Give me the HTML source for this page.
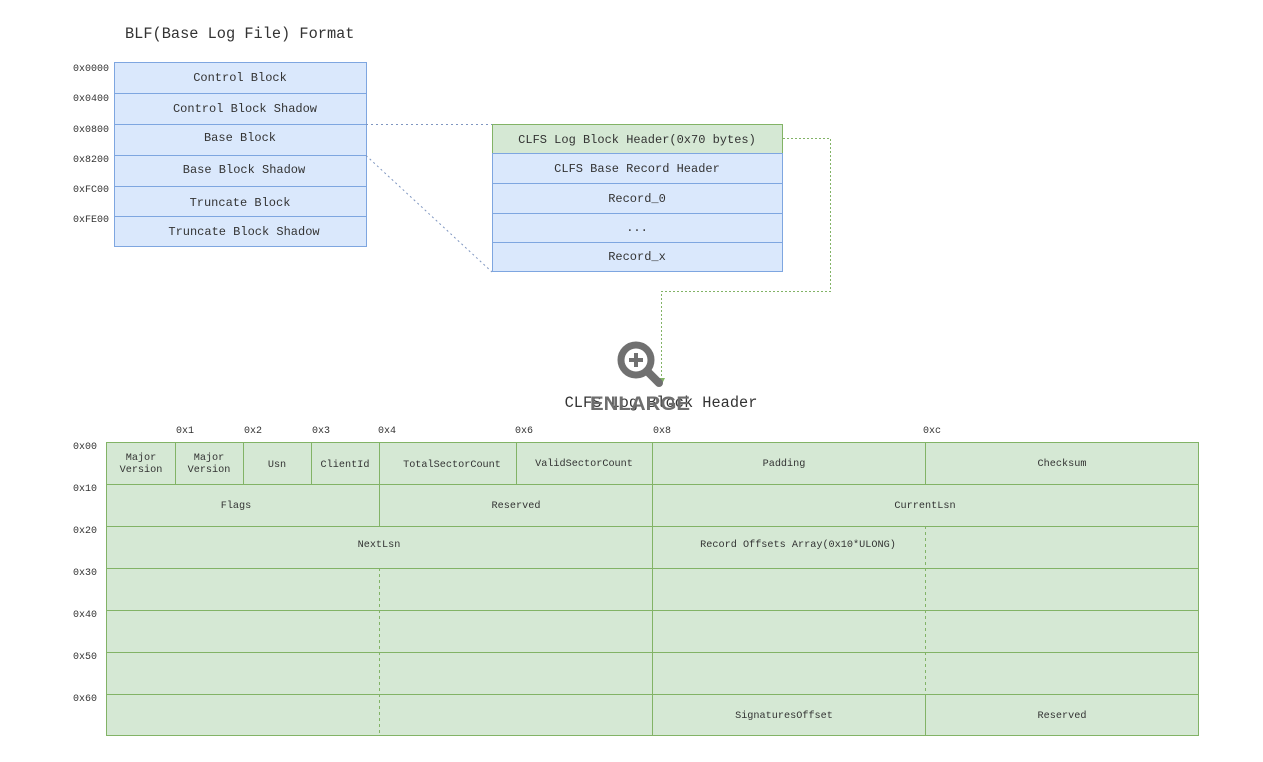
<!DOCTYPE html>
<html><head><meta charset="utf-8"><style>
html,body{margin:0;padding:0;background:#fff;width:1263px;height:762px;overflow:hidden}
svg text{font-family:"Liberation Mono",monospace;fill:#333}
</style></head><body>
<svg width="1263" height="762" viewBox="0 0 1263 762" xmlns="http://www.w3.org/2000/svg">
<text x="125" y="38" font-size="15.3" fill="#222">BLF(Base Log File) Format</text>
<!-- left blocks -->
<g font-size="12">
<rect x="114.5" y="62.5" width="252" height="184" fill="#dae8fc" stroke="#7ea6e0"/>
<g stroke="#7ea6e0"><line x1="114" y1="93.5" x2="366" y2="93.5"/><line x1="114" y1="124.5" x2="366" y2="124.5"/><line x1="114" y1="155.5" x2="366" y2="155.5"/><line x1="114" y1="186.5" x2="366" y2="186.5"/><line x1="114" y1="216.5" x2="366" y2="216.5"/></g>
<g text-anchor="middle">
<text x="240" y="81">Control Block</text>
<text x="245" y="112">Control Block Shadow</text>
<text x="240" y="141">Base Block</text>
<text x="244" y="173">Base Block Shadow</text>
<text x="240" y="206">Truncate Block</text>
<text x="244" y="235">Truncate Block Shadow</text>
</g>
<g font-size="10" fill="#555">
<text x="73" y="71">0x0000</text><text x="73" y="101">0x0400</text><text x="73" y="132">0x0800</text>
<text x="73" y="162">0x8200</text><text x="73" y="192">0xFC00</text><text x="73" y="222">0xFE00</text>
</g>
</g>
<!-- blue dotted connectors -->
<g stroke="#7f96c0" stroke-dasharray="2,3" fill="none">
<line x1="366" y1="124.5" x2="492" y2="124.5"/>
<line x1="366" y1="155.5" x2="492" y2="272"/>
</g>
<!-- middle blocks -->
<g font-size="12" text-anchor="middle">
<rect x="492.5" y="124.5" width="290" height="29" fill="#d5e8d4" stroke="#82b366"/>
<rect x="492.5" y="153.5" width="290" height="118" fill="#dae8fc" stroke="#7ea6e0"/>
<g stroke="#7ea6e0"><line x1="492" y1="183.5" x2="782" y2="183.5"/><line x1="492" y1="213.5" x2="782" y2="213.5"/><line x1="492" y1="242.5" x2="782" y2="242.5"/></g>
<text x="637" y="143">CLFS Log Block Header(0x70 bytes)</text>
<text x="637" y="172">CLFS Base Record Header</text>
<text x="637" y="202">Record_0</text>
<text x="637" y="231">...</text>
<text x="637" y="260">Record_x</text>
</g>
<!-- green dotted connector -->
<g stroke="#82b366" stroke-dasharray="2,2" fill="none">
<polyline points="783,138.5 830.5,138.5 830.5,291.5 661.5,291.5 661.5,380"/>
</g>
<path d="M658,378 L665,378 L661.5,385 Z" fill="#82b366"/>
<!-- title -->
<text x="661" y="407" font-size="15.3" text-anchor="middle" fill="#222">CLFS Log Block Header</text>
<!-- enlarge icon -->
<circle cx="636" cy="360" r="15" fill="#fff" stroke="#707070" stroke-width="7"/>
<line x1="647" y1="371" x2="659" y2="383" stroke="#707070" stroke-width="8" stroke-linecap="round"/>
<line x1="629" y1="360" x2="643" y2="360" stroke="#707070" stroke-width="4"/>
<line x1="636" y1="353" x2="636" y2="367" stroke="#707070" stroke-width="4"/>
<text x="590" y="410" font-weight="bold" font-size="19" textLength="100" lengthAdjust="spacingAndGlyphs" style="font-family:'Liberation Sans',sans-serif;fill:#6e6e6e">ENLARGE</text>
<!-- table -->
<rect x="106.5" y="442.5" width="1092" height="293" fill="#d5e8d4" stroke="#82b366"/>
<g stroke="#82b366">
<line x1="106" y1="484.5" x2="1198" y2="484.5"/><line x1="106" y1="526.5" x2="1198" y2="526.5"/>
<line x1="106" y1="568.5" x2="1198" y2="568.5"/><line x1="106" y1="610.5" x2="1198" y2="610.5"/>
<line x1="106" y1="652.5" x2="1198" y2="652.5"/><line x1="106" y1="694.5" x2="1198" y2="694.5"/>
<line x1="175.5" y1="442" x2="175.5" y2="484"/><line x1="243.5" y1="442" x2="243.5" y2="484"/>
<line x1="311.5" y1="442" x2="311.5" y2="484"/><line x1="379.5" y1="442" x2="379.5" y2="526"/>
<line x1="516.5" y1="442" x2="516.5" y2="484"/><line x1="652.5" y1="442" x2="652.5" y2="736"/>
<line x1="925.5" y1="442" x2="925.5" y2="484"/><line x1="925.5" y1="694" x2="925.5" y2="736"/>
</g>
<g stroke="#82b366" stroke-dasharray="3,3">
<line x1="379.5" y1="568" x2="379.5" y2="736"/>
<line x1="925.5" y1="526" x2="925.5" y2="694"/>
</g>
<g font-size="10.2" text-anchor="middle">
<text x="141" y="460">Major</text><text x="141" y="472">Version</text>
<text x="209" y="460">Major</text><text x="209" y="472">Version</text>
<text x="277" y="467">Usn</text>
<text x="345" y="467">ClientId</text>
<text x="452" y="467">TotalSectorCount</text>
<text x="584" y="466">ValidSectorCount</text>
<text x="784" y="466">Padding</text>
<text x="1062" y="466">Checksum</text>
<text x="236" y="508">Flags</text>
<text x="516" y="508">Reserved</text>
<text x="925" y="508">CurrentLsn</text>
<text x="379" y="547">NextLsn</text>
<text x="798" y="547">Record Offsets Array(0x10*ULONG)</text>
<text x="784" y="718">SignaturesOffset</text>
<text x="1062" y="718">Reserved</text>
</g>
<g font-size="10" fill="#555">
<text x="176" y="433">0x1</text><text x="244" y="433">0x2</text><text x="312" y="433">0x3</text>
<text x="378" y="433">0x4</text><text x="515" y="433">0x6</text><text x="653" y="433">0x8</text><text x="923" y="433">0xc</text>
<text x="73" y="449">0x00</text><text x="73" y="491">0x10</text><text x="73" y="533">0x20</text>
<text x="73" y="575">0x30</text><text x="73" y="617">0x40</text><text x="73" y="659">0x50</text><text x="73" y="701">0x60</text>
</g>
</svg>
</body></html>
